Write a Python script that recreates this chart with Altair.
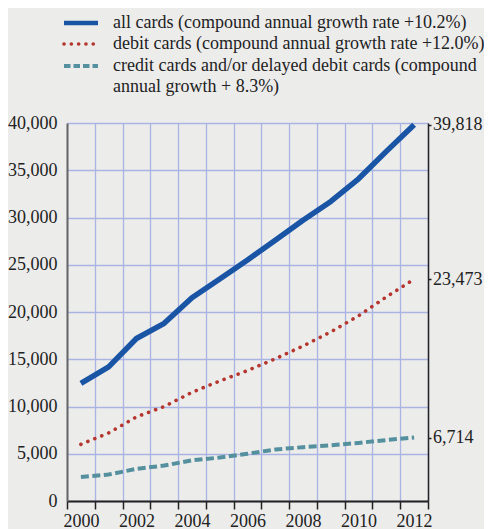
import altair as alt
import pandas as pd

# ---- data ----
years = list(range(2000, 2013))
all_cards = [12450, 14200, 17200, 18800, 21500, 23500, 25500, 27600, 29700, 31700, 34100, 37000, 39818]
debit_cards = [6000, 7200, 8900, 10000, 11500, 12700, 13800, 15050, 16400, 17900, 19600, 21600, 23473]
credit_cards = [2550, 2800, 3400, 3750, 4300, 4600, 5000, 5450, 5700, 5900, 6150, 6450, 6714]

legend_lines = [
    "all cards (compound annual growth rate +10.2%)",
    "debit cards (compound annual growth rate +12.0%)",
    "credit cards and/or delayed debit cards (compound",
    "annual growth + 8.3%)",
]
x_tick_values = [1999.5 + i for i in range(14)]
y_tick_values = list(range(0, 40001, 5000))
right_tick_values = [all_cards[-1], debit_cards[-1], credit_cards[-1]]

FONT = "Liberation Serif"
GRID = "#aab4e2"
BLUE = "#1a55a5"
RED = "#b5362e"
TEAL = "#55909e"
BG = "#ececeb"
W, H = 361, 378
half_year_px = W / 13 / 2

x_enc = alt.X(
    "year:Q",
    scale=alt.Scale(domain=[1999.5, 2012.5], nice=False, zero=False),
    axis=alt.Axis(
        values=x_tick_values, title=None, grid=True, gridColor=GRID, gridWidth=1.3,
        domainColor="#222222", domainWidth=2, tickColor="#222222", tickWidth=1.5, tickSize=8,
        labelExpr="(datum.value + 0.5) % 2 == 0 ? toString(datum.value + 0.5) : ''",
        labelOffset=half_year_px, labelPadding=3, labelFont=FONT, labelFontSize=18,
        labelColor="#222222", labelOverlap=False, labelFlush=False, labelBound=False,
    ),
)

y_scale = alt.Scale(domain=[0, 40000], nice=False)
y_left = alt.Y(
    "value:Q", scale=y_scale,
    axis=alt.Axis(
        values=y_tick_values, format=",d", title=None, grid=True, gridColor=GRID, gridWidth=1.5,
        ticks=False, domainColor="#666666", domainWidth=2, labelPadding=10,
        labelFont=FONT, labelFontSize=18, labelColor="#222222",
    ),
)
y_right = alt.Y(
    "value:Q", scale=y_scale,
    axis=alt.Axis(
        orient="right", values=right_tick_values, format=",d", title=None, grid=False,
        tickSize=3, tickColor="#222222", tickWidth=1.5, domainColor="#222222", domainWidth=1.5,
        labelPadding=1.5, labelFont=FONT, labelFontSize=18, labelColor="#222222",
    ),
)

df_all = pd.DataFrame({"year": years, "value": all_cards})
df_debit = pd.DataFrame({"year": years, "value": debit_cards})
df_credit = pd.DataFrame({"year": years, "value": credit_cards})
one = pd.DataFrame({"k": [0]})

blue_line = alt.Chart(df_all).mark_line(color=BLUE, strokeWidth=5.5, strokeJoin="round").encode(x=x_enc, y=y_left)
red_line = alt.Chart(df_debit).mark_line(color=RED, strokeWidth=3.6, strokeCap="round", strokeDash=[0.1, 7.4]).encode(x=x_enc, y=y_left)
teal_line = alt.Chart(df_credit).mark_line(color=TEAL, strokeWidth=4, strokeDash=[8, 3.5]).encode(x=x_enc, y=y_left)

# legend (drawn manually above the plot)
leg_rows = [-100, -79, -57, -36]
leg_sym = [
    dict(color=BLUE, strokeWidth=4.5),
    dict(color=RED, strokeWidth=3.6, strokeCap="round", strokeDash=[0.1, 7.2]),
    dict(color=TEAL, strokeWidth=4, strokeDash=[6.5, 3]),
]
legend_layers = []
for i, style in enumerate(leg_sym):
    legend_layers.append(
        alt.Chart(one).mark_rule(**style).encode(
            x=alt.value(-3), x2=alt.value(31), y=alt.value(leg_rows[i])
        )
    )
for i, txt in enumerate(legend_lines):
    legend_layers.append(
        alt.Chart(one).mark_text(
            align="left", baseline="middle", font=FONT, fontSize=18, color="#222222"
        ).encode(x=alt.value(46), y=alt.value(leg_rows[i]), text=alt.value(txt))
    )

inner = alt.layer(blue_line, red_line, teal_line, *legend_layers)
right_axis = alt.Chart(df_all).mark_line(opacity=0).encode(x=x_enc, y=y_right)

chart = (
    alt.layer(inner, right_axis)
    .resolve_axis(y="independent")
    .properties(
        width=W, height=H, autosize=alt.AutoSizeParams(type="none"),
        padding={"left": 59, "top": 115, "right": 56, "bottom": 28},
    )
    .configure(background=BG)
    .configure_view(stroke="transparent")
)

chart.save("out.html", embed_options={"renderer": "svg", "actions": False})
